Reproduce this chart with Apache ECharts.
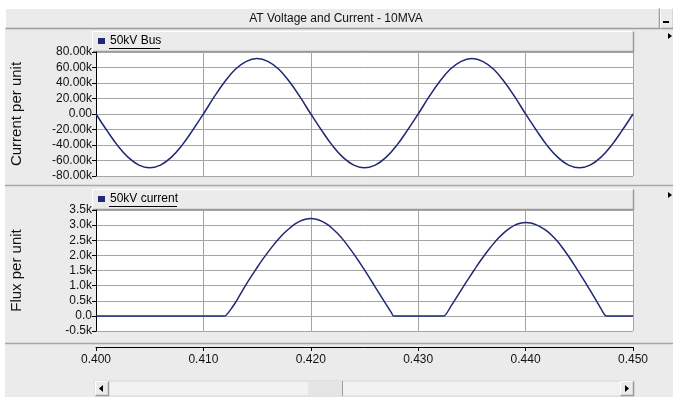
<!DOCTYPE html>
<html>

<head>
  <meta charset="utf-8">
  <title>AT Voltage and Current - 10MVA</title>
  <script src="https://cdn.jsdelivr.net/npm/echarts@6/dist/echarts.min.js" charset="utf-8"></script>
  <style media="screen">
    html, body { margin: 0; padding: 0; background: #fff; }
    #main { width: 673px; height: 399px; }
  </style>
</head>

<body>
  <div id="main"></div>

  <script type="text/javascript">
    // top panel - 50kV Bus
    var busT = [0.400, 0.401, 0.402, 0.403, 0.404, 0.405, 0.406, 0.407, 0.408, 0.409,
      0.410, 0.411, 0.412, 0.413, 0.414, 0.415, 0.416, 0.417, 0.418, 0.419,
      0.420, 0.421, 0.422, 0.423, 0.424, 0.425, 0.426, 0.427, 0.428, 0.429,
      0.430, 0.431, 0.432, 0.433, 0.434, 0.435, 0.436, 0.437, 0.438, 0.439,
      0.440, 0.441, 0.442, 0.443, 0.444, 0.445, 0.446, 0.447, 0.448, 0.449, 0.450];
    var busV = [0, -21000, -40500, -56000, -66000, -69500, -66000, -56000, -40500, -21000,
      0, 22000, 42000, 58000, 68000, 71500, 68000, 58000, 42000, 22000,
      0, -21000, -40500, -56000, -66000, -69500, -66000, -56000, -40500, -21000,
      0, 22000, 42000, 58000, 68000, 71500, 68000, 58000, 42000, 22000,
      0, -21000, -40500, -56000, -66000, -69500, -66000, -56000, -40500, -21000, 0];

    // bottom panel - 50kV current
    var curT = [0.400, 0.405, 0.410, 0.4120,
      0.4125, 0.4130, 0.4135, 0.4140, 0.4145, 0.4150, 0.4155, 0.4160, 0.4165, 0.4170,
      0.4175, 0.4180, 0.4185, 0.4190, 0.4195, 0.4200, 0.4205, 0.4210, 0.4215, 0.4220,
      0.4225, 0.4230, 0.4235, 0.4240, 0.4245, 0.4250, 0.4255, 0.4260, 0.4265, 0.4270,
      0.4275, 0.4277, 0.430, 0.4324,
      0.4330, 0.4335, 0.4340, 0.4345, 0.4350, 0.4355, 0.4360, 0.4365, 0.4370, 0.4375,
      0.4380, 0.4385, 0.4390, 0.4395, 0.4400, 0.4405, 0.4410, 0.4415, 0.4420, 0.4425,
      0.4430, 0.4435, 0.4440, 0.4445, 0.4450, 0.4455, 0.4460, 0.4465, 0.4470, 0.4475, 0.450];
    var curV = [0, 0, 0, 0,
      190, 450, 750, 1050, 1330, 1600, 1860, 2100, 2330, 2540,
      2730, 2890, 3030, 3130, 3195, 3220, 3195, 3130, 3030, 2890,
      2720, 2520, 2290, 2050, 1790, 1520, 1240, 950, 670, 390,
      110, 0, 0, 0,
      290, 570, 850, 1130, 1400, 1670, 1920, 2160, 2380, 2580,
      2750, 2890, 3000, 3065, 3090, 3070, 3010, 2920, 2800, 2640,
      2450, 2220, 1970, 1700, 1420, 1140, 850, 550, 250, 0, 0];

    var busData = busT.map(function(t, i) { return [t, busV[i]]; });
    var curData = curT.map(function(t, i) { return [t, curV[i]]; });

    var FONT = 'Liberation Sans';
    var BG = '#ECEBEC';
    var GRIDC = '#A4A4A4';
    var LINEC = '#1F2872';

    var chart = echarts.init(document.getElementById('main'));

    function plotX() {
      return {
        type: 'value', min: 0.4, max: 0.45, interval: 0.01,
        axisLine: { show: false }, axisTick: { show: false }, axisLabel: { show: false },
        splitLine: { show: true, lineStyle: { color: GRIDC, width: 1 } }
      };
    }

    function plotY(min, max, step, name, fmt) {
      return {
        type: 'value', min: min, max: max, interval: step,
        name: name, nameLocation: 'middle', nameGap: 72,
        nameTextStyle: { fontFamily: FONT, fontSize: 15, color: '#111' },
        axisLine: { show: true, lineStyle: { color: '#000', width: 1 } },
        axisTick: { show: true, length: 4, lineStyle: { color: '#000' } },
        axisLabel: { fontFamily: FONT, fontSize: 12, color: '#111', margin: 4, formatter: fmt },
        splitLine: { show: true, lineStyle: { color: GRIDC, width: 1 } }
      };
    }

    function bevel(x, y, w, h) {
      return [
        { type: 'rect', shape: { x: x, y: y, width: w, height: h }, style: { fill: BG, stroke: null } },
        { type: 'polyline', shape: { points: [[x, y + h], [x, y], [x + w, y]] }, style: { stroke: '#fff', lineWidth: 1, fill: null } },
        { type: 'polyline', shape: { points: [[x, y + h], [x + w, y + h], [x + w, y]] }, style: { stroke: '#9C9C9C', lineWidth: 1.5, fill: null } }
      ];
    }

    var gfx = [];
    // white outer frame
    gfx.push({ type: 'rect', shape: { x: 0, y: 0, width: 673, height: 8 }, style: { fill: '#fff' } });
    gfx.push({ type: 'rect', shape: { x: 0, y: 0, width: 5, height: 399 }, style: { fill: '#fff' } });
    gfx.push({ type: 'rect', shape: { x: 0, y: 397, width: 673, height: 2 }, style: { fill: '#fff' } });
    // title bar
    gfx = gfx.concat(bevel(5.5, 8.5, 654, 20));
    gfx = gfx.concat(bevel(660.5, 8.5, 13, 20));
    gfx.push({ type: 'text', x: 336, y: 19, style: { text: 'AT Voltage and Current - 10MVA', fontFamily: FONT, fontSize: 12, fill: '#111', align: 'center', verticalAlign: 'middle' } });
    gfx.push({ type: 'rect', shape: { x: 663, y: 21, width: 6, height: 2 }, style: { fill: '#000' } });
    // legend header bars
    gfx = gfx.concat(bevel(92.5, 31.5, 541, 20));
    gfx = gfx.concat(bevel(92.5, 189.5, 541, 20));
    // panel separators
    gfx.push({ type: 'line', shape: { x1: 5, y1: 185.5, x2: 673, y2: 185.5 }, style: { stroke: '#A8A8A8', lineWidth: 1.5 } });
    gfx.push({ type: 'line', shape: { x1: 5, y1: 343.5, x2: 673, y2: 343.5 }, style: { stroke: '#A8A8A8', lineWidth: 1.5 } });
    // legend underline
    gfx.push({ type: 'line', shape: { x1: 109, y1: 48.5, x2: 160, y2: 48.5 }, style: { stroke: '#000', lineWidth: 1 } });
    gfx.push({ type: 'line', shape: { x1: 109, y1: 206.5, x2: 177, y2: 206.5 }, style: { stroke: '#000', lineWidth: 1 } });
    // small right arrows
    gfx.push({ type: 'polygon', shape: { points: [[668, 33], [672, 36], [668, 39]] }, style: { fill: '#000' } });
    gfx.push({ type: 'polygon', shape: { points: [[668, 192], [672, 195], [668, 198]] }, style: { fill: '#000' } });
    // scrollbar
    gfx.push({ type: 'rect', shape: { x: 95, y: 381, width: 539, height: 15 }, style: { fill: '#F3F2F3', stroke: '#D6D6D6', lineWidth: 1 } });
    gfx.push({ type: 'rect', shape: { x: 308, y: 381, width: 34, height: 15 }, style: { fill: '#E6E5E6', stroke: null } });
    gfx.push({ type: 'line', shape: { x1: 342.5, y1: 381, x2: 342.5, y2: 396 }, style: { stroke: '#9C9C9C', lineWidth: 1 } });
    gfx = gfx.concat(bevel(95.5, 381.5, 13, 14));
    gfx = gfx.concat(bevel(620.5, 381.5, 13, 14));
    gfx.push({ type: 'polygon', shape: { points: [[103, 385], [99, 388.5], [103, 392]] }, style: { fill: '#000' } });
    gfx.push({ type: 'polygon', shape: { points: [[625, 385], [629, 388.5], [625, 392]] }, style: { fill: '#000' } });

    var legendText = { fontFamily: FONT, fontSize: 12, color: '#000' };

    var option = {
      backgroundColor: BG,
      animation: false,
      grid: [
        { left: 96, right: 40, top: 52, height: 124, show: true, backgroundColor: '#fff', borderWidth: 0 },
        { left: 96, right: 40, top: 210, height: 121, show: true, backgroundColor: '#fff', borderWidth: 0 },
        { left: 96, right: 40, top: 346, height: 1 }
      ],
      legend: [
        { data: ['50kV Bus'], left: 98, top: 35, padding: 0, icon: 'rect', itemWidth: 7, itemHeight: 6,
          selectedMode: false, textStyle: legendText },
        { data: ['50kV current'], left: 98, top: 193, padding: 0, icon: 'rect', itemWidth: 7, itemHeight: 6,
          selectedMode: false, textStyle: legendText }
      ],
      xAxis: [
        Object.assign(plotX(), { gridIndex: 0 }),
        Object.assign(plotX(), { gridIndex: 1 }),
        {
          gridIndex: 2, type: 'value', min: 0.4, max: 0.45, interval: 0.01, position: 'bottom',
          axisLine: { show: true, lineStyle: { color: '#000', width: 1 } },
          axisTick: { show: true, length: 4, lineStyle: { color: '#000' } },
          axisLabel: { fontFamily: FONT, fontSize: 12, color: '#111', margin: 7,
            formatter: function(v) { return v.toFixed(3); } },
          splitLine: { show: false }
        }
      ],
      yAxis: [
        Object.assign(plotY(-80000, 80000, 20000, 'Current per unit', function(v) {
          return v === 0 ? '0.00' : (v / 1000).toFixed(2) + 'k';
        }), { gridIndex: 0 }),
        Object.assign(plotY(-500, 3500, 500, 'Flux per unit', function(v) {
          return v === 0 ? '0.0' : (v / 1000).toFixed(1) + 'k';
        }), { gridIndex: 1 }),
        { gridIndex: 2, type: 'value', show: false }
      ],
      graphic: { elements: gfx },
      series: [
        { name: '50kV Bus', type: 'line', xAxisIndex: 0, yAxisIndex: 0, data: busData, smooth: 0.4,
          showSymbol: false, symbol: 'none', color: LINEC, lineStyle: { color: LINEC, width: 1.5 } },
        { name: '50kV current', type: 'line', xAxisIndex: 1, yAxisIndex: 1, data: curData, smooth: 0.2,
          showSymbol: false, symbol: 'none', color: LINEC, lineStyle: { color: LINEC, width: 1.5 } }
      ]
    };
    chart.setOption(option);
  </script>
</body>

</html>
